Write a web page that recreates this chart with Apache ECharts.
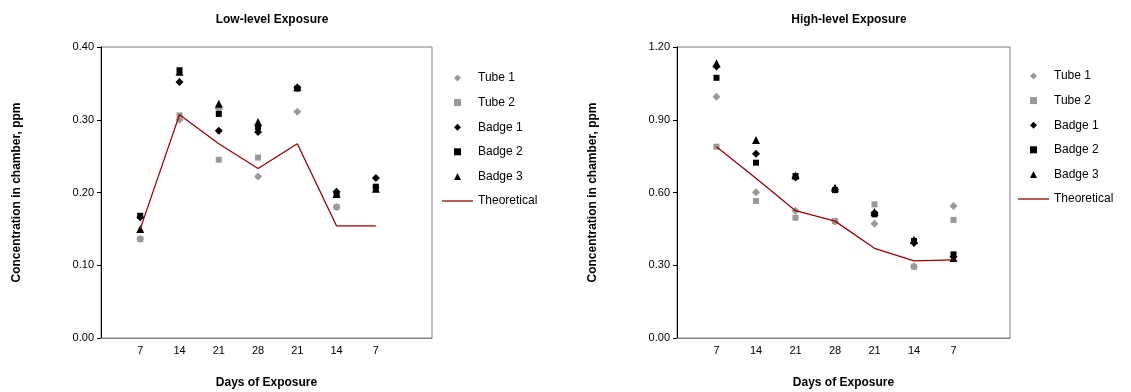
<!DOCTYPE html>
<html><head><meta charset="utf-8">
<script src="https://cdn.jsdelivr.net/npm/echarts@6/dist/echarts.min.js"></script>
<style>html,body{margin:0;padding:0;background:#fff}#c{width:1131px;height:392px}</style>
</head><body><div id="c"></div>
<script>
const categories = ['7','14','21','28','21','14','7'];
const seriesNames = ['Tube 1','Tube 2','Badge 1','Badge 2','Badge 3','Theoretical'];

const lowTube1  = [0.136,0.300,0.315,0.222,0.311,0.180,0.207];
const lowTube2  = [0.136,0.306,0.245,0.248,0.343,0.180,0.207];
const lowBadge1 = [0.166,0.352,0.285,0.283,0.344,0.201,0.220];
const lowBadge2 = [0.168,0.368,0.308,0.290,0.343,0.198,0.208];
const lowBadge3 = [0.150,0.366,0.322,0.297,0.345,0.198,0.205];
const lowTheo   = [0.150,0.307,0.267,0.233,0.267,0.154,0.154];

const highTube1  = [0.995,0.601,0.525,0.480,0.471,0.295,0.544];
const highTube2  = [0.789,0.565,0.496,0.482,0.551,0.294,0.487];
const highBadge1 = [1.120,0.760,0.662,0.612,0.515,0.392,0.335];
const highBadge2 = [1.073,0.723,0.668,0.610,0.510,0.400,0.345];
const highBadge3 = [1.133,0.816,0.670,0.620,0.520,0.405,0.330];
const highTheo   = [0.789,0.659,0.525,0.482,0.370,0.318,0.322];

const FONT = '"Liberation Sans", Arial, sans-serif';
const pts = arr => arr.map((v,i)=>[i+1,v]);

const DIAMOND = 'path://M0,-1L1,0L0,1L-1,0Z';
const SQUARE = 'path://M0,0L1,0L1,1L0,1Z';
const TRIANGLE = 'path://M0,-1L1,1L-1,1Z';
const LINEICON = 'path://M0,0L31,0L31,1.3L0,1.3Z';

const styles = [
  {symbol:'diamond', size:8, color:'#999999', icon:DIAMOND},
  {symbol:'rect', size:6, color:'#999999', icon:SQUARE},
  {symbol:'diamond', size:8, color:'#000000', icon:DIAMOND},
  {symbol:'rect', size:6, color:'#000000', icon:SQUARE},
  {symbol:'triangle', size:8, color:'#000000', icon:TRIANGLE}
];

function makeSeries(gi, arrs, theo){
  const s = arrs.map((a,k)=>({
    name: seriesNames[k], type:'scatter', xAxisIndex:gi, yAxisIndex:gi,
    symbol: styles[k].symbol, symbolSize: styles[k].size,
    itemStyle:{color: styles[k].color, opacity:1}, data: pts(a)
  }));
  s.push({name:'Theoretical', type:'line', xAxisIndex:gi, yAxisIndex:gi,
    symbol:'none', showSymbol:false, lineStyle:{color:'#990000', width:1.3}, itemStyle:{color:'#990000'},
    data: pts(theo)});
  return s;
}

function xAxis(gi){
  return {type:'value', gridIndex:gi, min:0, max:8.43, interval:1,
    axisLine:{show:true, lineStyle:{color:'#808080', width:1}},
    axisTick:{show:false}, splitLine:{show:false},
    axisLabel:{color:'#000', fontFamily:FONT, fontSize:11, margin:7, showMaxLabel:false,
      formatter: v => (v>=1 && v<=7 && Math.abs(v-Math.round(v))<1e-6) ? categories[Math.round(v)-1] : ''},
    name:'Days of Exposure', nameLocation:'middle', nameGap:39,
    nameTextStyle:{fontFamily:FONT, fontSize:12, fontWeight:'bold', color:'#000'}};
}
function yAxis(gi, max, interval){
  return {type:'value', gridIndex:gi, min:0, max:max, interval:interval,
    axisLine:{show:true, lineStyle:{color:'#000', width:1}},
    axisTick:{show:true, inside:false, length:4, lineStyle:{color:'#000'}},
    splitLine:{show:false},
    axisLabel:{color:'#000', fontFamily:FONT, fontSize:11, margin:7, formatter: v=>v.toFixed(2)},
    name:'Concentration in chamber, ppm', nameLocation:'middle', nameGap:78, nameRotate:90,
    nameTextStyle:{fontFamily:FONT, fontSize:12, fontWeight:'bold', color:'#000'}};
}
function legend(left, top){
  const data = seriesNames.map((n,k)=> k<5
    ? {name:n, icon:styles[k].icon, itemStyle:{color:styles[k].color, opacity:1}}
    : {name:n, icon:LINEICON, itemStyle:{color:'#990000'}});
  return {orient:'vertical', left:left, top:top, padding:0, itemWidth:31, itemHeight:7, itemGap:12.6,
    symbolKeepAspect:true, data: data, selectedMode:false,
    textStyle:{fontFamily:FONT, fontSize:12, color:'#000'}};
}

const chart = echarts.init(document.getElementById('c'), null, {renderer:'canvas'});
chart.setOption({
  animation:false,
  backgroundColor:'#fff',
  title:[
    {text:'Low-level Exposure', left:267, top:9, textAlign:'center',
      textStyle:{fontFamily:FONT, fontSize:12, fontWeight:'bold', color:'#000'}},
    {text:'High-level Exposure', left:844, top:9, textAlign:'center',
      textStyle:{fontFamily:FONT, fontSize:12, fontWeight:'bold', color:'#000'}}
  ],
  legend:[legend(442, 72), legend(1018, 70)],
  grid:[
    {left:101, top:47, width:331, height:291, show:true, borderColor:'#808080', borderWidth:1,
      backgroundColor:'transparent', containLabel:false, outerBoundsMode:'none'},
    {left:677, top:47, width:333, height:291, show:true, borderColor:'#808080', borderWidth:1,
      backgroundColor:'transparent', containLabel:false, outerBoundsMode:'none'}
  ],
  xAxis:[xAxis(0), xAxis(1)],
  yAxis:[yAxis(0, 0.4, 0.1), yAxis(1, 1.2, 0.3)],
  series:[
    ...makeSeries(0, [lowTube1,lowTube2,lowBadge1,lowBadge2,lowBadge3], lowTheo),
    ...makeSeries(1, [highTube1,highTube2,highBadge1,highBadge2,highBadge3], highTheo)
  ]
});
</script></body></html>
